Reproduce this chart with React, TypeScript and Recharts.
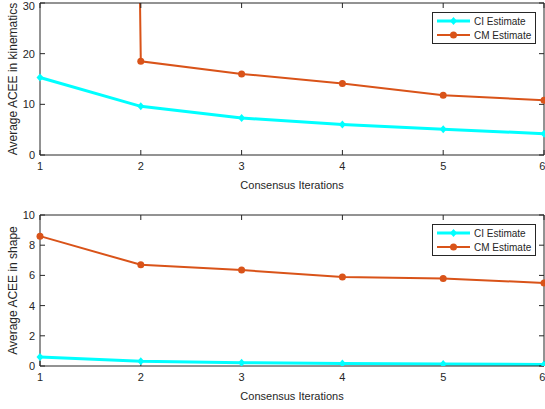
import React from 'react';
import { Legend, Line, LineChart, XAxis, YAxis } from 'recharts';

// values
const iterations = [1, 2, 3, 4, 5, 6];
const kinematicCI = [15.3, 9.6, 7.3, 6.0, 5.1, 4.2];
const kinematicCM = [1500, 18.5, 16.0, 14.1, 11.8, 10.8];
const shapeCI = [0.6, 0.32, 0.22, 0.17, 0.13, 0.1];
const shapeCM = [8.6, 6.7, 6.35, 5.9, 5.8, 5.5];
const kinematicTicks = [0, 10, 20, 30];
const shapeTicks = [0, 2, 4, 6, 8, 10];

const CYAN = '#00FFFF';
const ORANGE = '#D95319';
const AXIS = '#262626';
const FONT = '"Liberation Sans", Arial, Helvetica, sans-serif';

const diamond = (color: string) => (props: any) => {
  const { cx, cy, index } = props;
  if (cx == null || cy == null) return <g key={index} />;
  return (
    <polygon
      key={index}
      points={`${cx},${cy - 4} ${cx + 3.5},${cy} ${cx},${cy + 4} ${cx - 3.5},${cy}`}
      fill={color}
    />
  );
};

const circle = (color: string) => (props: any) => {
  const { cx, cy, index } = props;
  if (cx == null || cy == null) return <g key={index} />;
  return <circle key={index} cx={cx} cy={cy} r={3.5} fill={color} />;
};

const LegendBox = () => {
  const rows = [
    { name: 'CI Estimate', color: CYAN, width: 3, marker: 'd' },
    { name: 'CM Estimate', color: ORANGE, width: 2, marker: 'o' },
  ];
  return (
    <div style={{ border: `1px solid ${AXIS}`, background: '#fff', width: 102, padding: '1px 0', fontFamily: FONT, fontSize: 10, color: AXIS }}>
      {rows.map((r) => (
        <div key={r.name} style={{ display: 'flex', alignItems: 'center', height: 14 }}>
          <svg width={40} height={14}>
            <line x1={4} x2={37} y1={7} y2={7} stroke={r.color} strokeWidth={r.width} />
            {r.marker === 'd' ? (
              <polygon points="20.5,3 24,7 20.5,11 17,7" fill={r.color} />
            ) : (
              <circle cx={20.5} cy={7} r={3.5} fill={r.color} />
            )}
          </svg>
          <span style={{ marginLeft: 1 }}>{r.name}</span>
        </div>
      ))}
    </div>
  );
};

type PanelProps = {
  ci: number[];
  cm: number[];
  yTicks: number[];
  yLabel: string;
  top: number;
  height: number;
  marginTop: number;
  marginBottom: number;
  legendTop: number;
};

const Panel = ({ ci, cm, yTicks, yLabel, top, height, marginTop, marginBottom, legendTop }: PanelProps) => {
  const data = iterations.map((it, i) => ({ it, ci: ci[i], cm: cm[i] }));
  const yMax = yTicks[yTicks.length - 1];
  const tickStyle = { fill: AXIS, fontSize: 11, fontFamily: FONT };
  return (
    <div style={{ position: 'absolute', left: 0, top }}>
      <LineChart width={545} height={height} data={data} margin={{ top: marginTop, right: 1, bottom: marginBottom, left: 0 }}>
        <XAxis
          xAxisId="b"
          dataKey="it"
          type="number"
          domain={[1, 6]}
          ticks={iterations}
          tickLine={false}
          tickSize={4}
          tickMargin={3}
          stroke={AXIS}
          tick={tickStyle}
          height={34}
          label={{ value: 'Consensus Iterations', position: 'insideBottom', offset: 0, fill: AXIS, fontSize: 11, fontFamily: FONT }}
        />
        <XAxis xAxisId="bt" dataKey="it" type="number" domain={[1, 6]} ticks={iterations} mirror tickSize={5} tickFormatter={() => ''} stroke={AXIS} axisLine={false} />
        <XAxis xAxisId="t" dataKey="it" type="number" orientation="top" domain={[1, 6]} ticks={iterations} mirror tickSize={5} tickFormatter={() => ''} stroke={AXIS} />
        <YAxis
          yAxisId="l"
          type="number"
          domain={[0, yMax]}
          ticks={yTicks}
          allowDataOverflow
          tickLine={false}
          tickSize={3}
          tickMargin={2}
          stroke={AXIS}
          tick={tickStyle}
          width={40}
          label={(p: any) => {
            const vb = p.viewBox;
            const cx = 13;
            const cy = vb.y + vb.height / 2;
            return (
              <text x={cx} y={cy} transform={`rotate(-90 ${cx} ${cy})`} textAnchor="middle" dominantBaseline="central" fill={AXIS} fontSize={12} fontFamily={FONT}>
                {yLabel}
              </text>
            );
          }}
        />
        <YAxis yAxisId="lt" type="number" domain={[0, yMax]} ticks={yTicks} allowDataOverflow mirror tickSize={5} tickFormatter={() => ''} stroke={AXIS} axisLine={false} />
        <YAxis yAxisId="r" type="number" orientation="right" domain={[0, yMax]} ticks={yTicks} allowDataOverflow mirror tickSize={5} tickFormatter={() => ''} stroke={AXIS} />
        <Legend
          layout="vertical"
          align="center"
          verticalAlign="middle"
          content={<LegendBox />}
          wrapperStyle={{ position: 'absolute', top: legendTop, left: 432, width: 'auto', height: 'auto' }}
        />
        <Line xAxisId="b" yAxisId="l" dataKey="ci" name="CI Estimate" stroke={CYAN} strokeWidth={3} dot={diamond(CYAN)} activeDot={false} isAnimationActive={false} />
        <Line xAxisId="b" yAxisId="l" dataKey="cm" name="CM Estimate" stroke={ORANGE} strokeWidth={2} dot={circle(ORANGE)} activeDot={false} isAnimationActive={false} />
      </LineChart>
    </div>
  );
};

export default function App() {
  return (
    <div style={{ position: 'absolute', left: 0, top: 0, width: 545, height: 409, overflow: 'hidden', background: '#fff' }}>
      <Panel ci={kinematicCI} cm={kinematicCM} yTicks={kinematicTicks} yLabel="Average ACEE in kinematics" top={0} height={205} marginTop={3} marginBottom={16} legendTop={12} />
      <Panel ci={shapeCI} cm={shapeCM} yTicks={shapeTicks} yLabel="Average ACEE in shape" top={205} height={204} marginTop={10} marginBottom={9} legendTop={19} />
    </div>
  );
}
